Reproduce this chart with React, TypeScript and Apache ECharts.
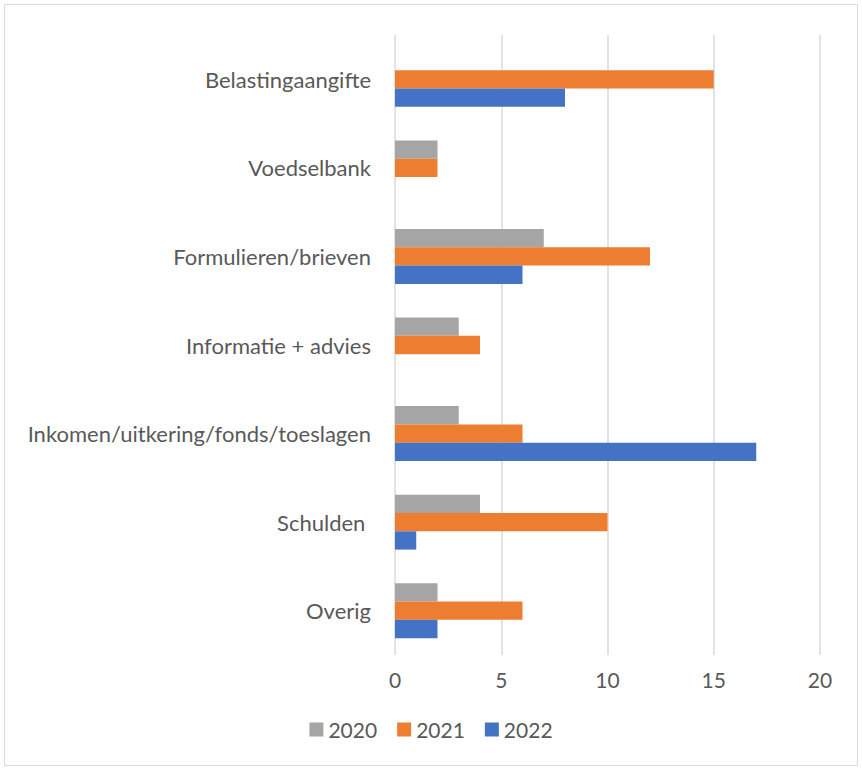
import React, { useEffect, useRef } from "react";
import * as echarts from "echarts";

const categories = [
  "Belastingaangifte",
  "Voedselbank",
  "Formulieren/brieven",
  "Informatie + advies",
  "Inkomen/uitkering/fonds/toeslagen",
  "Schulden ",
  "Overig",
];
const years = ["2020", "2021", "2022"];
const values2020 = [0, 2, 7, 3, 3, 4, 2];
const values2021 = [15, 2, 12, 4, 6, 10, 6];
const values2022 = [8, 0, 6, 0, 17, 1, 2];
const xTicks = [0, 5, 10, 15, 20];
const colors = ["#A5A5A5", "#ED7D31", "#4472C4"];

export default function App() {
  const ref = useRef<HTMLDivElement>(null);
  useEffect(() => {
    if (!ref.current) return;
    const chart = echarts.init(ref.current, null, { renderer: "svg" });
    const font = "Lato, 'Open Sans', sans-serif";
    const seriesVals = [values2020, values2021, values2022];
    chart.setOption({
      animation: false,
      backgroundColor: "#ffffff",
      textStyle: { fontFamily: font },
      graphic: [
        {
          type: "rect",
          shape: { x: 4.5, y: 4.5, width: 853, height: 761 },
          style: { fill: "none", stroke: "#d9d9d9", lineWidth: 1 },
          silent: true,
        },
      ],
      legend: {
        data: years,
        bottom: 25,
        left: "center",
        itemWidth: 14,
        itemHeight: 14,
        itemGap: 20,
        icon: "rect",
        textStyle: { color: "#595959", fontSize: 21, fontFamily: font },
      },
      grid: { left: 395, right: 42, top: 35, bottom: 115, containLabel: false },
      xAxis: {
        type: "value",
        min: xTicks[0],
        max: xTicks[xTicks.length - 1],
        interval: 5,
        axisLine: { show: false },
        axisTick: { show: false },
        axisLabel: { color: "#595959", fontSize: 21, margin: 14, fontFamily: font },
        splitLine: { show: true, lineStyle: { color: "#d9d9d9", width: 1.5 } },
      },
      yAxis: {
        type: "category",
        data: categories,
        inverse: true,
        axisLine: { show: false },
        axisTick: { show: false },
        axisLabel: { color: "#595959", fontSize: 22, margin: 24, fontFamily: font },
      },
      series: years.map((y, i) => ({
        name: y,
        type: "bar",
        data: seriesVals[i],
        itemStyle: { color: colors[i] },
        barGap: "0%",
        barCategoryGap: "38%",
      })),
    });
    return () => chart.dispose();
  }, []);
  return (
    <div
      ref={ref}
      style={{ position: "fixed", left: 0, top: 0, width: 862, height: 770 }}
    />
  );
}
